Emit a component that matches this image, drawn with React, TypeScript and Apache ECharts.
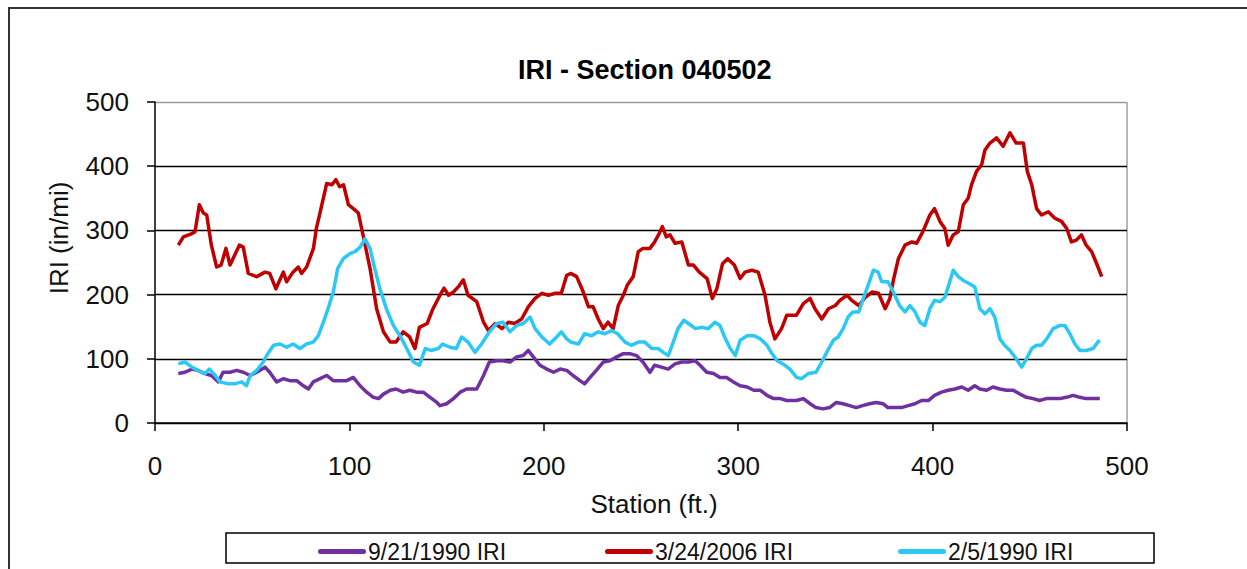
import React, { useEffect, useRef } from "react";
import * as echarts from "echarts";

const chartTitle = "IRI - Section 040502";
const xAxisName = "Station (ft.)";
const yAxisName = "IRI (in/mi)";
const xTicks = [0, 100, 200, 300, 400, 500];
const yTicks = [0, 100, 200, 300, 400, 500];

const seriesNames = ["9/21/1990 IRI", "3/24/2006 IRI", "2/5/1990 IRI"];
const seriesColors = ["#7030A0", "#C00000", "#2CC8F5"];

const purpleStations = [
  12, 15.4, 19, 22, 25.7, 29, 32.6, 35, 38.6, 42, 45.4, 49, 52.3, 56.6, 59, 62.6, 66, 69.4, 72.9, 76.3, 78.9, 81.4, 84.9, 88.3, 91.7, 95, 98.6, 102, 105.5, 108.9, 112.3, 115, 117.5, 121, 124, 127.7, 131, 134.6, 138, 141.5, 145, 146.6, 150, 153.5, 157, 160.3,
  165.5, 169, 172, 175.8, 179, 182.6, 186, 189.4, 192, 194.6, 198, 201.5, 205, 208.4, 211.8, 215, 218.6, 221, 223.8, 227, 230.6, 234, 237.5, 240.9, 244.3, 247.7, 251, 254.6, 257, 260.5, 264, 267.5, 271, 274.4, 277.8, 280.4, 283.8, 287.3, 290.6, 294, 297.5, 301, 304.6, 308, 311.4, 314.8, 318.3, 321.7, 325,
  330, 333.5, 337, 340, 343.6, 347, 350.5, 353.9, 357.3, 360.7, 364, 367.6, 371, 374.5, 377, 380.6, 384, 387.5, 390.9, 394.3, 397.8, 401, 404.6, 408, 411.5, 415, 418.3, 421.7, 424.3, 427.8, 431, 434.6, 438, 441.5, 444.9, 448.3, 451.7, 455, 458.5, 462, 465.5, 468.8, 472.3, 475.7, 479, 482.6, 486,
];
const purpleIri = [
  77, 79, 84, 82, 77, 74, 64, 79, 79, 82, 79, 74, 79, 87, 79, 64, 69, 66, 66, 58, 53, 64, 69, 74, 66, 66, 66, 71, 58, 48, 40, 38, 45, 51, 53, 48, 51, 48, 48, 40, 32, 27, 30, 38, 48, 53,
  53, 74, 95, 97, 97, 95, 103, 105, 113, 103, 90, 84, 79, 84, 82, 74, 66, 61, 71, 82, 95, 97, 103, 108, 108, 105, 95, 79, 90, 87, 84, 92, 95, 95, 97, 90, 79, 77, 71, 71, 64, 58, 56, 51, 51, 43, 38, 38, 35,
  35, 38, 30, 24, 22, 24, 32, 30, 27, 24, 27, 30, 32, 30, 24, 24, 24, 27, 30, 35, 35, 43, 48, 51, 53, 56, 51, 58, 53, 51, 56, 53, 51, 51, 45, 40, 38, 35, 38, 38, 38, 40, 43, 40, 38, 38, 38,
];

const redStations = [
  12, 14.6, 19, 20.6, 22.8, 24.9, 26.6, 29, 31.7, 34, 36.5, 38.6, 40.6, 43.4, 45.4, 48, 52.3, 56.6, 59, 62.2, 66, 67.7, 71, 73.7, 75.4, 78, 81.5, 83, 85, 88.3, 91, 93, 95, 97, 99.5, 102, 104.6, 107, 110.6, 114, 117.5, 121, 124, 127.7, 131, 133.7, 136, 140, 143, 146.6, 148.7, 151, 153.5, 156, 158.6, 161,
  165.5, 169, 171.5, 175, 178.5, 181.8, 185, 188.6, 192, 195.5, 199, 202.4, 205.7, 209, 211.8, 214, 216.9, 220.3, 223, 225.4, 228, 230.6, 233, 235.7, 238.3, 240.9, 243, 246, 248.6, 251, 254.6, 257, 259, 261, 263, 264.9, 267.5, 271, 274.4, 277, 280, 284, 286.7, 289, 291.9, 294.6, 298, 301, 303.5, 307, 310.3, 313.8, 316.3, 318.9, 322.3, 325,
  330, 333.5, 337, 339.5, 343, 346.4, 350, 352.3, 356, 358.4, 362, 365.5, 368.8, 372.2, 375.6, 378, 379.8, 382.4, 385.8, 389.3, 391.8, 395, 398.6, 401, 403.8, 406.3, 408, 410.6, 413.2, 415.8, 418.3, 420, 422.6, 425.2, 426.9, 429.5, 432.9, 436.3, 439.8, 443, 446.7, 448.7, 451, 453.5, 456, 459.5, 462.9, 466.3, 469, 471.4, 474, 476.6, 479, 481.8, 484.4, 487,
];
const redIri = [
  277, 290, 295, 298, 340, 327, 324, 277, 243, 246, 272, 246, 259, 277, 274, 233, 228, 235, 233, 209, 235, 220, 235, 243, 233, 243, 272, 303, 329, 373, 371, 379, 368, 371, 340, 334, 327, 293, 241, 178, 142, 126, 126, 142, 134, 116, 149, 155, 178, 199, 210, 199, 204, 212, 223, 199,
  189, 157, 144, 155, 147, 157, 155, 162, 181, 194, 202, 199, 202, 202, 230, 233, 228, 204, 181, 181, 162, 147, 157, 147, 183, 199, 215, 228, 267, 272, 272, 282, 293, 306, 290, 293, 280, 282, 246, 246, 235, 225, 194, 209, 248, 256, 246, 225, 235, 238, 235, 199, 157, 131, 147, 168,
  168, 186, 194, 178, 162, 178, 183, 191, 199, 191, 183, 196, 204, 202, 178, 194, 222, 256, 277, 282, 280, 298, 324, 334, 314, 303, 277, 293, 298, 340, 350, 371, 392, 402, 425, 436, 444, 431, 452, 436, 436, 392, 371, 334, 324, 329, 319, 314, 303, 282, 285, 293, 277, 267, 248, 228,
];

const cyanStations = [
  12, 15.4, 19, 22, 25.7, 28, 31, 33.4, 37.7, 41, 44.6, 47, 49, 52.3, 55.7, 58, 61, 64.3, 67.7, 71, 74.6, 78, 81.4, 84, 86.6, 89, 91.7, 94, 96.9, 100.3, 102.9, 105.5, 108, 110.6, 113, 115.7, 119, 122.6, 126, 129.5, 132.9, 136, 139, 142, 145.7, 148, 151.7, 155, 157.7, 161,
  164.6, 168, 172, 175.8, 179, 182.6, 186, 189.4, 192.9, 195.5, 199, 203, 206.6, 209, 211.8, 214, 217.8, 221, 224.6, 228, 231.4, 234.9, 238, 241.8, 245, 248.6, 252, 255.5, 258.9, 261.5, 264, 266.6, 269, 272, 274.4, 278, 281, 284.6, 288, 290.6, 293, 295.9, 298.5, 301, 304.6, 308, 311.4, 314.8, 317, 320, 323, 326.6,
  330, 332.6, 336, 340, 343, 345.5, 349, 351.4, 354, 356.5, 359, 362, 364, 366.9, 369.5, 372, 373.8, 377, 379.8, 383, 385.8, 388.3, 391, 393.5, 396, 398.6, 401, 403.8, 406.3, 408, 410.6, 413.2, 415.8, 419, 421.7, 424.3, 426.9, 429.5, 432, 434.6, 437, 439.8, 443, 445.8, 448.3, 451, 453.5, 456, 458.7, 462, 465.5, 468, 470.6, 473.2, 475.8, 479, 482.6, 485, 486,
];
const cyanIri = [
  92, 95, 87, 82, 77, 84, 74, 64, 61, 61, 64, 58, 74, 82, 95, 108, 121, 123, 118, 123, 116, 123, 126, 136, 157, 178, 204, 241, 256, 264, 267, 274, 287, 272, 241, 209, 178, 152, 136, 116, 95, 90, 116, 113, 116, 123, 118, 116, 134, 126,
  110, 123, 142, 155, 157, 142, 152, 155, 165, 147, 134, 123, 134, 142, 131, 126, 123, 139, 136, 142, 139, 144, 139, 126, 121, 126, 126, 116, 116, 110, 105, 126, 147, 160, 155, 147, 149, 147, 157, 152, 134, 116, 105, 129, 136, 136, 131, 121, 110, 97, 92, 84,
  71, 69, 77, 79, 95, 110, 129, 134, 147, 165, 173, 173, 191, 215, 238, 235, 220, 220, 204, 183, 173, 183, 173, 157, 152, 178, 191, 189, 196, 212, 238, 228, 222, 217, 212, 178, 170, 178, 165, 131, 121, 113, 100, 87, 100, 116, 121, 121, 131, 147, 152, 152, 139, 123, 113, 113, 116, 126, 129,
];

const zip = (xs: number[], ys: number[]) => xs.map((x, i) => [x, ys[i]]);

const FONT = '"Liberation Sans", Arial, sans-serif';
const legendLefts = [313, 600, 893];

export default function App() {
  const ref = useRef<HTMLDivElement>(null);

  useEffect(() => {
    if (!ref.current) return;
    const chart = echarts.init(ref.current, null, { renderer: "svg" });
    const seriesData = [
      zip(purpleStations, purpleIri),
      zip(redStations, redIri),
      zip(cyanStations, cyanIri),
    ];
    chart.setOption({
      animation: false,
      backgroundColor: "#ffffff",
      title: {
        text: chartTitle,
        left: 513,
        top: 51,
        textStyle: { fontFamily: FONT, fontSize: 27, fontWeight: "bold", color: "#000" },
      },
      grid: { left: 155, right: 120, top: 102, bottom: 146, containLabel: false },
      xAxis: {
        type: "value",
        min: xTicks[0],
        max: xTicks[xTicks.length - 1],
        interval: 100,
        axisLine: { show: true, onZero: false, lineStyle: { color: "#000", width: 1.5 } },
        axisTick: { show: true, length: 8, lineStyle: { color: "#000", width: 1.5 } },
        axisLabel: { margin: 30, fontFamily: FONT, fontSize: 26, color: "#111" },
        splitLine: { show: false },
      },
      yAxis: {
        type: "value",
        min: yTicks[0],
        max: yTicks[yTicks.length - 1],
        interval: 100,
        axisLine: { show: true, lineStyle: { color: "#000", width: 1.5 } },
        axisTick: { show: true, length: 8, lineStyle: { color: "#000", width: 1.5 } },
        axisLabel: { margin: 26, fontFamily: FONT, fontSize: 26, color: "#111" },
        splitLine: {
          show: true,
          lineStyle: { color: ["#000", "#000", "#000", "#000", "#000", "#9a9a9a"], width: 1.4 },
        },
      },
      legend: seriesNames.map((n, i) => ({
        left: legendLefts[i],
        top: 535,
        itemWidth: 48,
        itemHeight: 14,
        itemGap: 0,
        textStyle: { fontFamily: FONT, fontSize: 23, color: "#111", padding: [0, 0, 0, -3] },
        data: [{ name: n, icon: "path://M2.5,0 L45.5,0 A2.5,2.5 0 0 1 45.5,5 L2.5,5 A2.5,2.5 0 0 1 2.5,0 Z" }],
      })),
      graphic: [
        {
          type: "rect",
          shape: { x: 9, y: 8, width: 1300, height: 700 },
          style: { fill: "none", stroke: "#333", lineWidth: 2 },
          silent: true,
        },
        {
          type: "line",
          shape: { x1: 1127, y1: 102, x2: 1127, y2: 423 },
          style: { stroke: "#9a9a9a", lineWidth: 1.4 },
          silent: true,
        },
        {
          type: "rect",
          shape: { x: 226, y: 533, width: 928, height: 30 },
          style: { fill: "none", stroke: "#000", lineWidth: 1.5 },
          silent: true,
          z: -1,
        },
        {
          type: "text",
          x: 59,
          y: 238,
          rotation: Math.PI / 2,
          style: {
            text: yAxisName,
            fontFamily: FONT,
            fontSize: 26,
            fill: "#111",
            align: "center",
            verticalAlign: "middle",
          },
          silent: true,
        },
        {
          type: "text",
          x: 654,
          y: 504,
          style: {
            text: xAxisName,
            fontFamily: FONT,
            fontSize: 26,
            fill: "#111",
            align: "center",
            verticalAlign: "middle",
          },
          silent: true,
        },
      ],
      series: seriesNames.map((name, i) => ({
        name,
        type: "line",
        data: seriesData[i],
        symbol: "none",
        showSymbol: false,
        color: seriesColors[i],
        lineStyle: { color: seriesColors[i], width: 3.5, join: "round" },
        z: 2 + i,
      })),
    });
    return () => chart.dispose();
  }, []);

  return (
    <div
      ref={ref}
      style={{ position: "absolute", left: 0, top: 0, width: 1247, height: 569, background: "#fff" }}
    />
  );
}
